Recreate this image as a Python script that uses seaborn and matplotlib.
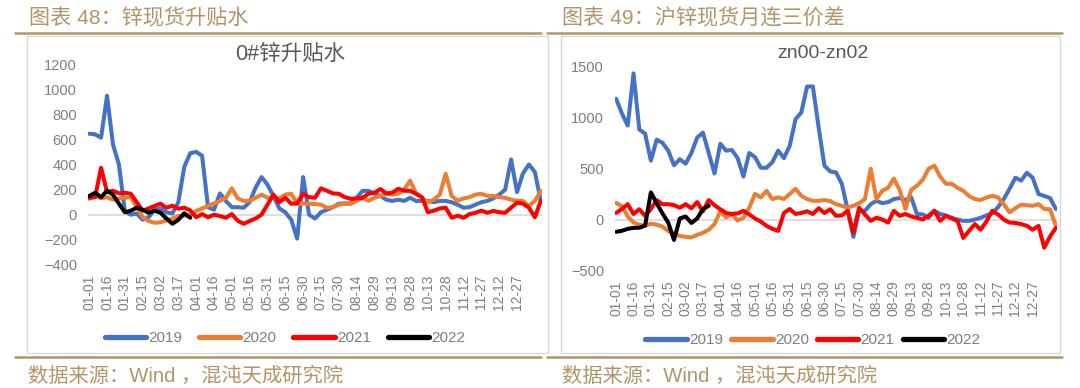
import numpy as np
import pandas as pd
import matplotlib.pyplot as plt
import seaborn as sns
from matplotlib.lines import Line2D
from matplotlib.patches import Rectangle

# =========================================================
# DATA (one value every 5 days)
# =========================================================

years = ['2019', '2020', '2021', '2022']
colors = ['#4472C4', '#ED7D31', '#FF0000', '#000000']
step = 5

tick_labels = ['01-01', '01-16', '01-31', '02-15', '03-02', '03-17', '04-01',
               '04-16', '05-01', '05-16', '05-31', '06-15', '06-30', '07-15',
               '07-30', '08-14', '08-29', '09-13', '09-28', '10-13', '10-28',
               '11-12', '11-27', '12-12', '12-27']

# 0#锌升贴水
basis_2019 = [645, 640, 613, 947, 560, 400, 30, 0, 10, -40, -20, 40, 50, 20, 10, 100,
              380, 490, 500, 470, 60, 40, 170, 110, 60, 60, 56, 100, 215, 300, 240,
              150, 50, 20, -40, -190, 300, 0, -30, 20, 40, 60, 88, 90, 90, 135, 190,
              190, 170, 150, 120, 110, 120, 110, 135, 110, 110, 110, 100, 110, 110,
              100, 80, 56, 60, 80, 100, 110, 130, 160, 200, 440, 180, 330, 400, 340, 110]
basis_2020 = [127, 150, 130, 140, 120, 130, 135, 140, 60, -20, -50, -64, -60, -45, -30,
              -10, -8, -5, 30, 50, 70, 90, 110, 135, 210, 130, 110, 111, 135, 160, 135,
              140, 130, 160, 167, 88, 90, 88, 85, 80, 56, 60, 80, 88, 88, 110, 135, 111,
              135, 150, 167, 160, 167, 200, 271, 170, 135, 100, 120, 160, 326, 150, 111,
              130, 140, 160, 167, 150, 150, 140, 135, 120, 111, 110, 70, 110, 190]
basis_2021 = [135, 140, 374, 180, 191, 170, 175, 167, 100, 32, 50, 70, 88, 56, 72, 48,
              56, 35, -20, 5, -20, 0, -10, -24, 5, -48, -72, -50, -30, 0, 80, 160, 100,
              135, 88, 90, 167, 140, 135, 210, 191, 170, 167, 140, 127, 130, 135, 167,
              175, 205, 170, 175, 207, 191, 190, 167, 140, 20, 32, 50, 56, -24, -8, -24,
              5, 16, 32, 16, 30, 20, 16, 56, 96, 88, 56, -20, 110]
basis_2022 = [150, 175, 140, 191, 160, 88, 20, 32, 56, 40, 16, 32, 16, -30, -72, -40, 12, -24]

# zn00-zn02
spread_2019 = [1180, 1035, 918, 1428, 880, 840, 575, 780, 750, 673, 530, 590, 545, 650,
               800, 849, 650, 450, 740, 673, 680, 600, 420, 650, 610, 506, 506, 560, 673,
               600, 720, 980, 1045, 1300, 1300, 900, 526, 470, 460, 350, 100, -170, 85,
               85, 150, 183, 160, 170, 200, 210, 190, 216, 54, 50, 17, 85, 54, 40, 17, 0,
               -13, -13, 0, 17, 40, 60, 120, 200, 300, 408, 380, 457, 408, 250, 230, 210, 103]
spread_2020 = [162, 130, 30, -30, -50, -60, -40, -50, -70, -111, -140, -160, -170, -175,
               -150, -130, -100, -45, 80, 20, 54, -10, 17, 115, 250, 216, 280, 200, 216,
               200, 250, 300, 232, 200, 183, 183, 190, 180, 150, 134, 115, 134, 160, 200,
               496, 200, 281, 310, 400, 290, 103, 290, 330, 390, 496, 526, 420, 349, 349,
               310, 281, 230, 200, 190, 215, 232, 216, 150, 70, 110, 145, 140, 134, 150,
               103, 100, -62]
spread_2021 = [64, 103, 150, 54, 100, 36, 103, 190, 150, 150, 140, 115, 150, 110, 170, 80,
               190, 140, 100, 64, 54, 60, 85, 50, 10, -20, -62, -91, -111, 64, 103, 54, 64,
               80, 54, 110, 64, 100, 36, 40, 85, -127, 115, 50, -13, 17, 0, -30, 85, 36, 54,
               30, 17, 0, 36, 85, -13, 36, 10, -13, -180, -111, -45, -100, -20, 85, 50, 0,
               -30, -33, -45, -62, -100, -62, -275, -165, -82]
spread_2022 = [-120, -110, -91, -82, -80, -60, 265, 160, 60, -30, -200, 10, 30, -33, 10, 103, 134]


def to_frame(series):
    rows = []
    for year, vals in zip(years, series):
        for i, v in enumerate(vals):
            rows.append({'day': i * step, 'value': v, 'year': year})
    return pd.DataFrame(rows)


df_basis = to_frame([basis_2019, basis_2020, basis_2021, basis_2022])
df_spread = to_frame([spread_2019, spread_2020, spread_2021, spread_2022])

# =========================================================
# STYLE
# =========================================================

sns.set_theme(style='white')
plt.rcParams['font.family'] = ['Liberation Sans', 'Noto Sans CJK SC', 'DejaVu Sans']

gold = '#b39468'
grey_txt = '#7f7f7f'

fig = plt.figure(figsize=(10.8, 3.88), dpi=100)
W, H = 1080, 388


def fx(px):
    return px / W


def fy(py):
    return 1 - py / H


# frames, header lines, titles
for x0, x1 in [(27, 548), (561, 1060)]:
    fig.add_artist(Rectangle((fx(x0), fy(353)), fx(x1 - x0), (353 - 36) / H,
                             transform=fig.transFigure, fill=False,
                             edgecolor='#d9d9d9', lw=1))
for x0, x1 in [(15, 541), (547, 1062)]:
    for y in [33, 357]:
        fig.add_artist(Line2D([fx(x0), fx(x1)], [fy(y), fy(y)],
                              transform=fig.transFigure, color=gold, lw=1.8))

fig.text(fx(29), fy(18), '图表 48：锌现货升贴水', color=gold, fontsize=15.2,
         va='center', ha='left')
fig.text(fx(562), fy(18), '图表 49：沪锌现货月连三价差', color=gold, fontsize=15.2,
         va='center', ha='left')
for x in [28, 562]:
    fig.text(fx(x), fy(376), '数据来源：Wind ，混沌天成研究院', color=gold,
             fontsize=14.6, va='center', ha='left')

# =========================================================
# PANELS
# =========================================================

panels = [
    dict(df=df_basis, rect=[fx(88), fy(265), fx(542 - 88), (265 - 64) / H],
         ylim=(-400, 1200), yticks=range(-400, 1201, 200),
         title='0#锌升贴水', title_x=290, title_size=15.5,
         legend_x=285, legend_y=338, colsp=1.1),
    dict(df=df_spread, rect=[fx(615), fy(270.7), fx(442), (270.7 - 66) / H],
         ylim=(-500, 1500), yticks=range(-500, 1501, 500),
         title='zn00-zn02', title_x=823, title_size=14,
         legend_x=813, legend_y=340, colsp=0.55),
]

for p in panels:
    ax = fig.add_axes(p['rect'])
    ax.axhline(0, color='#d9d9d9', lw=1.2, zorder=0)
    sns.lineplot(data=p['df'], x='day', y='value', hue='year',
                 palette=dict(zip(years, colors)), linewidth=2.9,
                 legend=False, ax=ax)
    ax.set_xlim(-1, 381)
    ax.set_ylim(*p['ylim'])
    ax.set_yticks(list(p['yticks']))
    ax.set_xticks(np.arange(len(tick_labels)) * 15)
    ax.set_xticklabels(tick_labels, rotation=90)
    ax.tick_params(axis='x', length=0, pad=7, labelsize=10, labelcolor=grey_txt)
    ax.tick_params(axis='y', length=0, pad=8, labelsize=10.5, labelcolor=grey_txt)
    ax.set_xlabel('')
    ax.set_ylabel('')
    for s in ax.spines.values():
        s.set_visible(False)
    ax.patch.set_alpha(0)

    fig.text(fx(p['title_x']), fy(54), p['title'], color='#595959',
             fontsize=p['title_size'], ha='center', va='center')

    handles = [Line2D([], [], color=c, lw=3.8, solid_capstyle='round') for c in colors]
    fig.legend(handles, years, loc='center', ncol=4, frameon=False,
               bbox_to_anchor=(fx(p['legend_x']), fy(p['legend_y'])),
               fontsize=11, labelcolor=grey_txt, handlelength=2.7,
               handletextpad=0.15, columnspacing=p['colsp'])

fig.savefig('out.png', dpi=100)
